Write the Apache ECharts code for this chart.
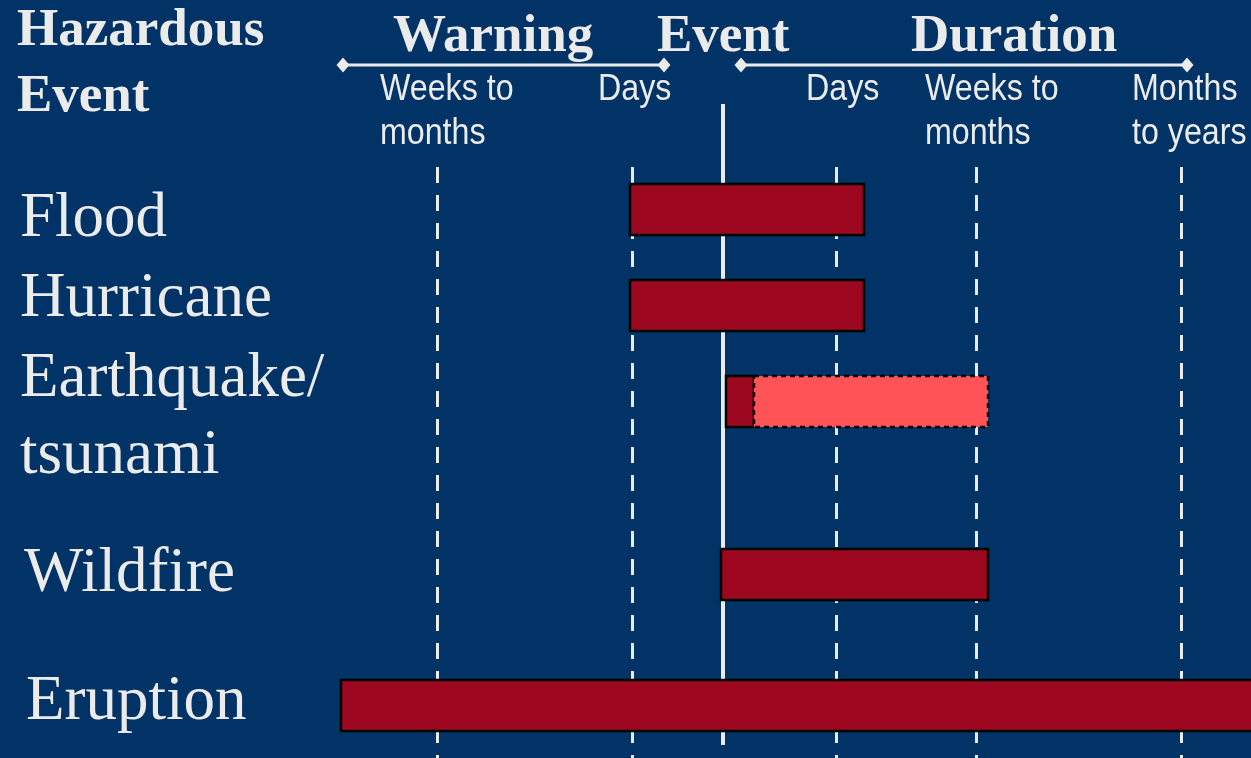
<!DOCTYPE html>
<html>
<head>
<meta charset="utf-8">
<script src="https://cdn.jsdelivr.net/npm/echarts@6/dist/echarts.min.js"></script>
<style>
html,body{margin:0;padding:0;background:#023366;}
#c{width:1251px;height:758px;}
</style>
</head>
<body>
<div id="c"></div>
<script>
// ---- data ----
// hazards and their row position (vertical position on the diagram, top = 0)
const categories = ['Flood', 'Hurricane', 'Earthquake/\ntsunami', 'Wildfire', 'Eruption'];
const rowPos = [209.5, 305.5, 401.5, 574.5, 705.5];
// timeline position relative to the event (0 = event)
const mainStart = [-93, -93, 3, -2, -382];
const mainEnd = [141, 141, 31, 265, 545];
// uncertain / extended part (earthquake aftermath / tsunami)
const extStart = [null, null, 31, null, null];
const extEnd = [null, null, 265, null, null];
// timeline reference ticks
const tickPos = [-286, -91, 113, 253, 458];
const tickLabels = ['Weeks to\nmonths', 'Days', 'Days', 'Weeks to\nmonths', 'Months\nto years'];
const eventPos = 0;

const FG = '#ebebeb';
const DARK = '#9d0820';
const LIGHT = '#ff5357';
const BAR_H = 51;

const chart = echarts.init(document.getElementById('c'), null, {renderer: 'canvas'});

function barItem(fill, dashed) {
  return function (params, api) {
    const p0 = api.coord([api.value(0), api.value(2)]);
    const p1 = api.coord([api.value(1), api.value(2)]);
    const h = api.size([0, BAR_H])[1];
    const rect = {x: p0[0], y: p0[1] - h / 2, width: p1[0] - p0[0], height: h};
    return {
      type: 'rect',
      shape: rect,
      style: {fill: fill, stroke: '#000', lineWidth: 2.5, lineDash: dashed ? [5, 4] : null}
    };
  };
}

const mainData = categories.map((c, i) => [mainStart[i], mainEnd[i], rowPos[i]]);
const extData = categories.map((c, i) => extStart[i] == null ? null : [extStart[i], extEnd[i], rowPos[i]]).filter(d => d);

const tickLines = tickPos.map(v => [
  {coord: [v, 167]}, {coord: [v, 758]}
]);

const sans = 'Liberation Sans';
const serif = 'Liberation Serif';

// header and tick label graphics
const tickLabelX = [380, 598, 806, 925, 1132];
const graphics = [];
function hdr(text, x, y, size) {
  graphics.push({type: 'text', x: x, y: y, style: {text: text, fontWeight: 'bold', fontSize: size, fontFamily: serif, fill: FG, verticalAlign: 'top'}});
}
hdr('Hazardous', 17, 5, 53);
hdr('Event', 17, 71, 53);
hdr('Warning', 393, 11, 53);
hdr('Event', 657, 11, 53);
hdr('Duration', 911, 11, 53);
// arrows
function arrow(x1, x2, y) {
  graphics.push({type: 'line', shape: {x1: x1, y1: y, x2: x2, y2: y}, style: {stroke: FG, lineWidth: 3}});
  [x1, x2].forEach(x => graphics.push({type: 'polygon', shape: {points: [[x - 6.5, y], [x, y - 7.5], [x + 6.5, y], [x, y + 7.5]]}, style: {fill: FG}}));
}
arrow(343, 664, 65);
arrow(741, 1187, 65);
tickLabels.forEach((t, i) => {
  graphics.push({type: 'text', x: tickLabelX[i], y: 68, scaleX: 0.87, style: {text: t, fontSize: 37, fontFamily: sans, fill: FG, lineHeight: 44, verticalAlign: 'top'}});
});
// category labels
const catLabelX = [20, 20, 20, 24, 26];
const catLabelTop = [181, 261, 341, 536, 664];
categories.forEach((t, i) => {
  graphics.push({type: 'text', x: catLabelX[i], y: catLabelTop[i], style: {text: t, fontSize: 63, fontFamily: serif, fill: FG, lineHeight: 77, verticalAlign: 'top'}});
});

chart.setOption({
  backgroundColor: '#023366',
  animation: false,
  grid: {left: 0, right: 0, top: 0, bottom: 0},
  xAxis: {type: 'value', min: -723, max: 528, show: false},
  yAxis: {type: 'value', min: 0, max: 758, inverse: true, show: false},
  series: [
    {
      type: 'custom',
      name: 'guides',
      data: [],
      silent: true,
      z: 1,
      markLine: {
        silent: true,
        z: 1,
        symbol: 'none',
        label: {show: false},
        lineStyle: {color: FG, width: 3, type: [16, 12]},
        data: tickLines.concat([[{coord: [eventPos, 104], lineStyle: {type: 'solid', width: 4}}, {coord: [eventPos, 745]}]])
      },
      renderItem: () => null
    },
    {
      type: 'custom', name: 'main', renderItem: barItem(DARK, false),
      encode: {x: [0, 1], y: 2}, data: mainData, z: 10, clip: true
    },
    {
      type: 'custom', name: 'extended', renderItem: barItem(LIGHT, true),
      encode: {x: [0, 1], y: 2}, data: extData, z: 10, clip: true
    }
  ],
  graphic: graphics
});
</script>
</body>
</html>
